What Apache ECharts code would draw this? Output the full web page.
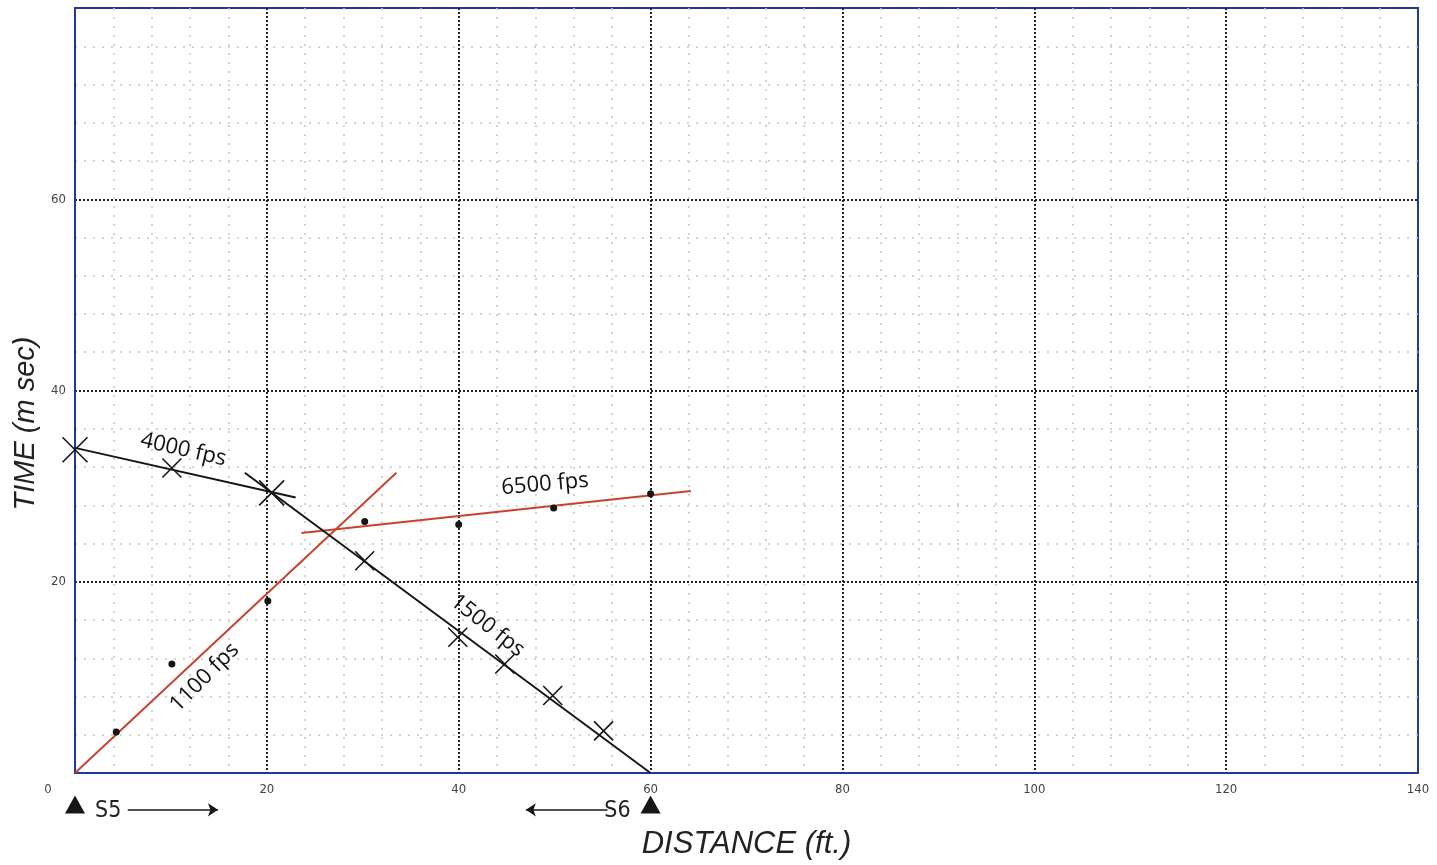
<!DOCTYPE html>
<html lang="en">
<head>
  <meta charset="UTF-8" />
  <title>Seismic refraction time-distance plot</title>
  <script src="https://cdn.jsdelivr.net/npm/echarts@6/dist/echarts.min.js"></script>
  <style>
    html, body, #main {
      margin: 0; padding: 0; width: 100%; height: 100%;
      background: #ffffff;
    }
  </style>
</head>
<body>
  <div id="main"></div>
  <script>
    const chart = echarts.init(document.getElementById('main'));

    // first arrivals (distance ft, time ms)
    const crosses4000 = [[0, 33.8], [10.1, 31.9], [20.5, 29.3]];
    const crosses1500 = [[30.2, 22.2], [39.9, 14.2], [44.8, 11.4], [49.8, 8.1], [55.1, 4.4]];
    const dots = [[4.3, 4.3], [10.1, 11.4], [20.1, 18.0], [30.2, 26.3], [40.0, 26.0], [49.9, 27.7], [60.0, 29.2]];

    // hand-fitted velocity lines
    const fit4000 = [[0, 34.0], [23.0, 28.8]];
    const fit1500 = [[17.7, 31.4], [60, 0]];
    const fit1100 = [[0, 0], [33.5, 31.4]];
    const fit6500 = [[23.6, 25.1], [64.2, 29.5]];

    // line labels: text, anchor, angle
    const fpsNames = ['4000 fps', '6500 fps', '1500 fps', '1100 fps'];
    const fpsAnchors = [[11.3, 33.8], [49.0, 30.2], [43.0, 15.4], [13.5, 10.0]];
    const fpsAngles = [-13, 5, -38, 45];

    // shot points below the axis
    const shotNames = ['S5', 'S6'];
    const shotX = [0, 60];
    const shotY = -3.3;
    const arrows = [[[5.5, -3.85], [14.9, -3.85]], [[55.5, -3.85], [47.0, -3.85]]];

    const RED = '#c8432e';
    const INK = '#161616';
    const BLUE = '#22389a';
    const NARROW = "'Liberation Sans Narrow', 'DejaVu Sans Condensed', 'Liberation Sans', sans-serif";
    const crossPath = 'path://M0,0L10,10M10,0L0,10';

    chart.setOption({
      animation: false,
      grid: {
        left: 75, right: 19, top: 8, bottom: 88,
        show: true, borderColor: BLUE, borderWidth: 2
      },
      xAxis: {
        type: 'value', min: 0, max: 140, interval: 20,
        name: 'DISTANCE (ft.)', nameLocation: 'middle', nameGap: 56,
        nameTextStyle: { fontFamily: 'Liberation Sans', fontStyle: 'italic', fontSize: 31, color: '#222' },
        axisLine: { show: true, lineStyle: { color: BLUE, width: 2 } },
        axisTick: { show: false },
        axisLabel: {
          margin: 10, color: '#444', fontSize: 13, fontFamily: NARROW,
          formatter: v => v === 0 ? '{z|0}' : String(v),
          rich: { z: { padding: [0, 54, 0, 0], fontSize: 13, color: '#444', fontFamily: NARROW } }
        },
        splitLine: { show: true, showMinLine: false, showMaxLine: false, lineStyle: { color: '#222', type: [2, 2], width: 2 } },
        minorTick: { show: false, splitNumber: 5 },
        minorSplitLine: { show: true, lineStyle: { color: '#c6c6c6', type: [2, 7], width: 1.5 } }
      },
      yAxis: {
        type: 'value', min: 0, max: 80, interval: 20,
        name: 'TIME (m sec)', nameLocation: 'middle', nameGap: 34,
        nameTextStyle: { fontFamily: 'Liberation Sans', fontStyle: 'italic', fontSize: 29, color: '#222', padding: [0, 66, 0, 0] },
        axisLine: { show: true, lineStyle: { color: BLUE, width: 2 } },
        axisTick: { show: false },
        axisLabel: {
          margin: 9, color: '#444', fontSize: 13, fontFamily: NARROW,
          formatter: v => (v === 0 || v === 80) ? '' : String(v)
        },
        splitLine: { show: true, showMinLine: false, showMaxLine: false, lineStyle: { color: '#222', type: [2, 2], width: 2 } },
        minorTick: { show: false, splitNumber: 5 },
        minorSplitLine: { show: true, lineStyle: { color: '#c6c6c6', type: [2, 7], width: 1.5 } }
      },
      series: [
        { type: 'line', data: fit1100, symbol: 'none', lineStyle: { color: RED, width: 2 }, z: 3 },
        { type: 'line', data: fit6500, symbol: 'none', lineStyle: { color: RED, width: 2 }, z: 3 },
        { type: 'line', data: fit4000, symbol: 'none', lineStyle: { color: INK, width: 2 }, z: 4 },
        { type: 'line', data: fit1500, symbol: 'none', lineStyle: { color: INK, width: 2 }, z: 4 },
        {
          type: 'scatter', data: crosses4000, symbol: crossPath,
          symbolSize: v => (v[0] === 0 || v[0] > 20) ? 25 : 19,
          itemStyle: { color: 'none', borderColor: INK, borderWidth: 1.6, opacity: 1 }, z: 5
        },
        {
          type: 'scatter', data: crosses1500, symbol: crossPath, symbolSize: 19,
          itemStyle: { color: 'none', borderColor: INK, borderWidth: 1.6, opacity: 1 }, z: 5
        },
        {
          type: 'scatter', data: dots, symbol: 'circle', symbolSize: 7,
          itemStyle: { color: INK, opacity: 1 }, z: 5
        },
        {
          type: 'scatter', symbolSize: 0, z: 6,
          itemStyle: { opacity: 1 },
          data: fpsNames.map((n, i) => ({ name: n, value: fpsAnchors[i], label: { rotate: fpsAngles[i] } })),
          label: {
            show: true, position: 'inside', formatter: p => p.name,
            fontFamily: 'Open Sans', fontSize: 22, color: '#111', opacity: 1
          }
        },
        {
          type: 'scatter', clip: false, symbol: 'triangle', symbolSize: [20, 18], z: 6,
          itemStyle: { color: INK, opacity: 1 },
          data: shotNames.map((n, i) => ({
            name: n, value: [shotX[i], shotY],
            label: { position: i === 0 ? 'right' : 'left' }
          })),
          label: {
            show: true, formatter: p => p.name, distance: 10, offset: [0, 6],
            fontFamily: NARROW, fontSize: 23, color: '#222'
          }
        },
        {
          type: 'lines', coordinateSystem: 'cartesian2d', clip: false, z: 6,
          symbol: ['none', 'arrow'], symbolSize: 10,
          lineStyle: { color: INK, width: 1.5, opacity: 1 },
          data: arrows.map(c => ({ coords: c }))
        }
      ]
    });
  </script>
</body>
</html>
